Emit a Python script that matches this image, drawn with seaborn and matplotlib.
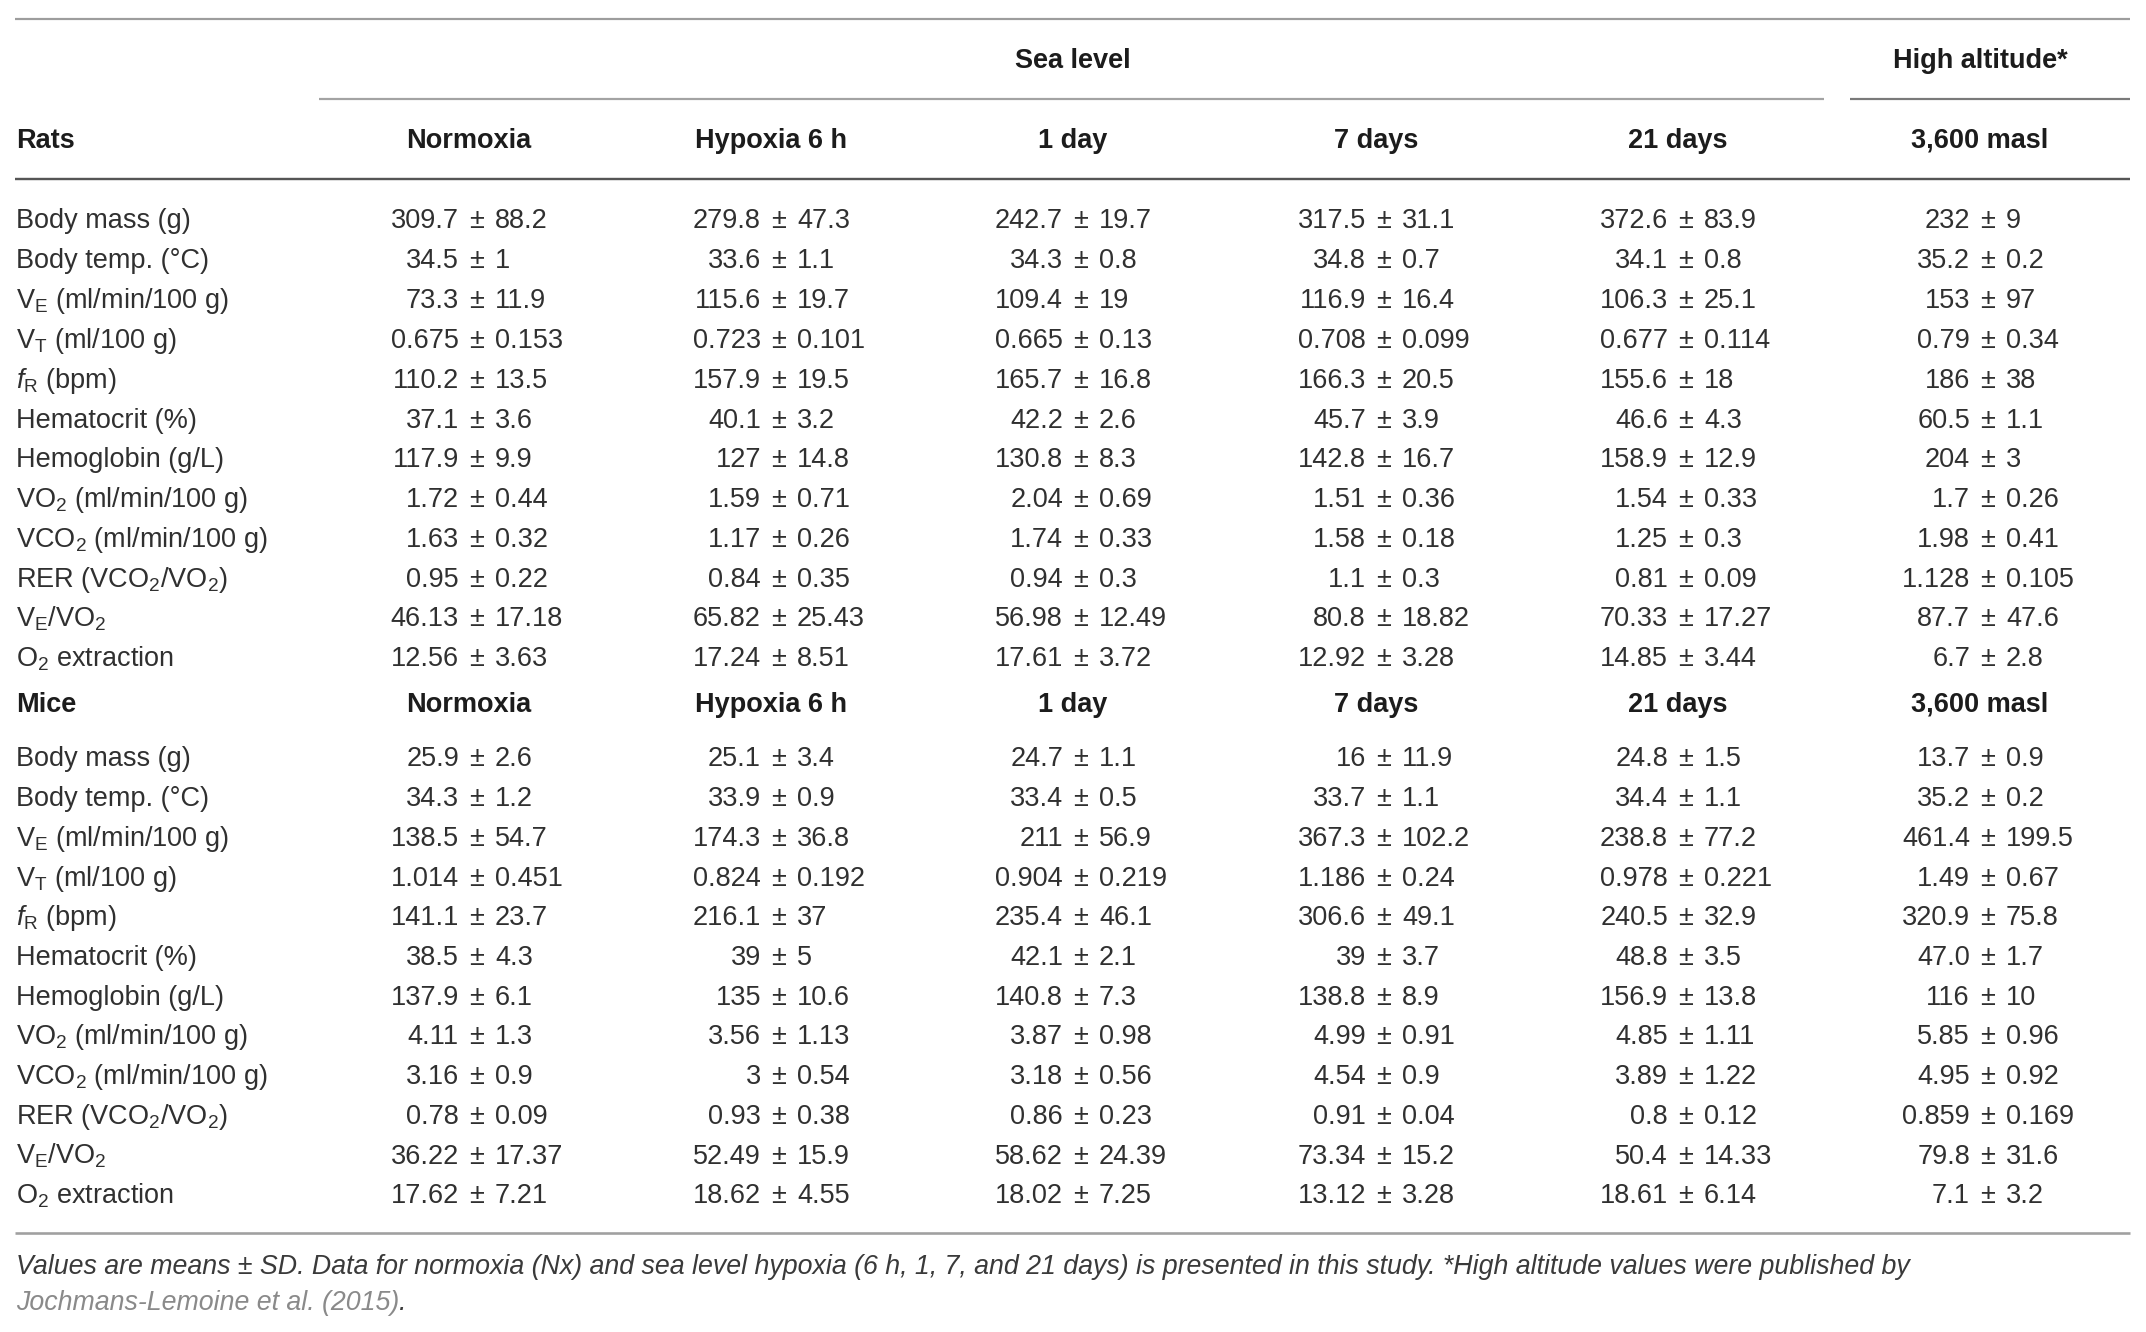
import matplotlib
matplotlib.use("Agg")
import matplotlib.pyplot as plt
import seaborn as sns

# ---------------- data ----------------
row_labels = [
    "Body mass (g)",
    "Body temp. (°C)",
    r"$\mathrm{V}_\mathrm{E}$ (ml/min/100 g)",
    r"$\mathrm{V}_\mathrm{T}$ (ml/100 g)",
    r"$\mathit{f}_\mathrm{R}$ (bpm)",
    "Hematocrit (%)",
    "Hemoglobin (g/L)",
    r"$\mathrm{VO}_\mathrm{2}$ (ml/min/100 g)",
    r"$\mathrm{VCO}_\mathrm{2}$ (ml/min/100 g)",
    r"RER ($\mathrm{VCO}_\mathrm{2}$/$\mathrm{VO}_\mathrm{2}$)",
    r"$\mathrm{V}_\mathrm{E}$/$\mathrm{VO}_\mathrm{2}$",
    r"$\mathrm{O}_\mathrm{2}$ extraction",
]
columns = ["Normoxia", "Hypoxia 6 h", "1 day", "7 days", "21 days", "3,600 masl"]
group_titles = ["Sea level", "High altitude*"]
species = ["Rats", "Mice"]

rats_normoxia = ["309.7 ± 88.2", "34.5 ± 1", "73.3 ± 11.9", "0.675 ± 0.153", "110.2 ± 13.5", "37.1 ± 3.6",
                 "117.9 ± 9.9", "1.72 ± 0.44", "1.63 ± 0.32", "0.95 ± 0.22", "46.13 ± 17.18", "12.56 ± 3.63"]
rats_hypoxia6h = ["279.8 ± 47.3", "33.6 ± 1.1", "115.6 ± 19.7", "0.723 ± 0.101", "157.9 ± 19.5", "40.1 ± 3.2",
                  "127 ± 14.8", "1.59 ± 0.71", "1.17 ± 0.26", "0.84 ± 0.35", "65.82 ± 25.43", "17.24 ± 8.51"]
rats_1day = ["242.7 ± 19.7", "34.3 ± 0.8", "109.4 ± 19", "0.665 ± 0.13", "165.7 ± 16.8", "42.2 ± 2.6",
             "130.8 ± 8.3", "2.04 ± 0.69", "1.74 ± 0.33", "0.94 ± 0.3", "56.98 ± 12.49", "17.61 ± 3.72"]
rats_7days = ["317.5 ± 31.1", "34.8 ± 0.7", "116.9 ± 16.4", "0.708 ± 0.099", "166.3 ± 20.5", "45.7 ± 3.9",
              "142.8 ± 16.7", "1.51 ± 0.36", "1.58 ± 0.18", "1.1 ± 0.3", "80.8 ± 18.82", "12.92 ± 3.28"]
rats_21days = ["372.6 ± 83.9", "34.1 ± 0.8", "106.3 ± 25.1", "0.677 ± 0.114", "155.6 ± 18", "46.6 ± 4.3",
               "158.9 ± 12.9", "1.54 ± 0.33", "1.25 ± 0.3", "0.81 ± 0.09", "70.33 ± 17.27", "14.85 ± 3.44"]
rats_high = ["232 ± 9", "35.2 ± 0.2", "153 ± 97", "0.79 ± 0.34", "186 ± 38", "60.5 ± 1.1",
             "204 ± 3", "1.7 ± 0.26", "1.98 ± 0.41", "1.128 ± 0.105", "87.7 ± 47.6", "6.7 ± 2.8"]

mice_normoxia = ["25.9 ± 2.6", "34.3 ± 1.2", "138.5 ± 54.7", "1.014 ± 0.451", "141.1 ± 23.7", "38.5 ± 4.3",
                 "137.9 ± 6.1", "4.11 ± 1.3", "3.16 ± 0.9", "0.78 ± 0.09", "36.22 ± 17.37", "17.62 ± 7.21"]
mice_hypoxia6h = ["25.1 ± 3.4", "33.9 ± 0.9", "174.3 ± 36.8", "0.824 ± 0.192", "216.1 ± 37", "39 ± 5",
                  "135 ± 10.6", "3.56 ± 1.13", "3 ± 0.54", "0.93 ± 0.38", "52.49 ± 15.9", "18.62 ± 4.55"]
mice_1day = ["24.7 ± 1.1", "33.4 ± 0.5", "211 ± 56.9", "0.904 ± 0.219", "235.4 ± 46.1", "42.1 ± 2.1",
             "140.8 ± 7.3", "3.87 ± 0.98", "3.18 ± 0.56", "0.86 ± 0.23", "58.62 ± 24.39", "18.02 ± 7.25"]
mice_7days = ["16 ± 11.9", "33.7 ± 1.1", "367.3 ± 102.2", "1.186 ± 0.24", "306.6 ± 49.1", "39 ± 3.7",
              "138.8 ± 8.9", "4.99 ± 0.91", "4.54 ± 0.9", "0.91 ± 0.04", "73.34 ± 15.2", "13.12 ± 3.28"]
mice_21days = ["24.8 ± 1.5", "34.4 ± 1.1", "238.8 ± 77.2", "0.978 ± 0.221", "240.5 ± 32.9", "48.8 ± 3.5",
               "156.9 ± 13.8", "4.85 ± 1.11", "3.89 ± 1.22", "0.8 ± 0.12", "50.4 ± 14.33", "18.61 ± 6.14"]
mice_high = ["13.7 ± 0.9", "35.2 ± 0.2", "461.4 ± 199.5", "1.49 ± 0.67", "320.9 ± 75.8", "47.0 ± 1.7",
             "116 ± 10", "5.85 ± 0.96", "4.95 ± 0.92", "0.859 ± 0.169", "79.8 ± 31.6", "7.1 ± 3.2"]

footnote_line1 = ("Values are means ± SD. Data for normoxia (Nx) and sea level hypoxia (6 h, 1, 7, and 21 days) "
                  "is presented in this study. *High altitude values were published by")
footnote_ref = "Jochmans-Lemoine et al. (2015)"

rats_table = [rats_normoxia, rats_hypoxia6h, rats_1day, rats_7days, rats_21days, rats_high]
mice_table = [mice_normoxia, mice_hypoxia6h, mice_1day, mice_7days, mice_21days, mice_high]

# ---------------- style ----------------
sns.set_theme(style="white")
plt.rcParams["font.family"] = ["Liberation Sans", "DejaVu Sans"]
plt.rcParams["mathtext.fontset"] = "custom"
plt.rcParams["mathtext.rm"] = "Liberation Sans"
plt.rcParams["mathtext.it"] = "Liberation Sans:italic"
plt.rcParams["mathtext.bf"] = "Liberation Sans:bold"

W, H = 2146, 1332
fig = plt.figure(figsize=(W / 100, H / 100), dpi=100)
ax = fig.add_axes([0, 0, 1, 1])
ax.set_xlim(0, W)
ax.set_ylim(H, 0)
ax.axis("off")

FS = 19.5
BODY = "#303030"
BOLD = "#1c1c1c"
BASE = 8.5           # baseline offset below visual centre (px)
PM_OFF = 8           # centre of "±" relative to column centre (px)
GAP = 18             # distance from centre of "±" to the numbers (px)

label_x = 16
col_x = [469, 771, 1073, 1376, 1678, 1980]   # header centres
line_x0, line_x1 = 15, 2130

def px2pt(p):
    return p * 72 / 100

# rules
ax.hlines(19, line_x0, line_x1, color="#9d9d9d", lw=px2pt(2.2))
ax.hlines(99, 319, 1824, color="#a3a3a3", lw=px2pt(2.2))
ax.hlines(99, 1850, line_x1, color="#7a7a7a", lw=px2pt(2.2))
ax.hlines(179, line_x0, line_x1, color="#555555", lw=px2pt(2.4))
ax.hlines(1233, line_x0, line_x1, color="#a0a0a0", lw=px2pt(2.6))

# group titles
ax.text(col_x[2], 59 + BASE, group_titles[0], ha="center", va="baseline",
        fontsize=FS, fontweight="bold", color=BOLD)
ax.text(col_x[5], 59 + BASE, group_titles[1], ha="center", va="baseline",
        fontsize=FS, fontweight="bold", color=BOLD)

def header_row(y, name):
    ax.text(label_x, y + BASE, name, ha="left", va="baseline", fontsize=FS,
            fontweight="bold", color=BOLD)
    for cx, c in zip(col_x, columns):
        ax.text(cx, y + BASE, c, ha="center", va="baseline", fontsize=FS,
                fontweight="bold", color=BOLD)

def body_rows(y0, step, table):
    for i, lab in enumerate(row_labels):
        y = y0 + i * step + BASE
        ax.text(label_x, y, lab, ha="left", va="baseline", fontsize=FS, color=BODY)
        for cx, col in zip(col_x, table):
            mean, sd = col[i].split(" ± ")
            pm = cx + PM_OFF
            ax.text(pm - GAP, y, mean, ha="right", va="baseline", fontsize=FS, color=BODY)
            ax.text(pm, y, "±", ha="center", va="baseline", fontsize=FS, color=BODY)
            ax.text(pm + GAP, y, sd, ha="left", va="baseline", fontsize=FS, color=BODY)

header_row(139, species[0])
body_rows(220, 39.8, rats_table)
header_row(703, species[1])
body_rows(758, 39.7, mice_table)

# footnote
FN = 19.3
ax.text(label_x, 1266 + BASE, footnote_line1, ha="left", va="baseline", fontsize=FN,
        style="italic", color="#3a3a3a")
t2 = ax.text(label_x, 1302 + BASE, footnote_ref, ha="left", va="baseline", fontsize=FN,
             style="italic", color="#8a8a8a")
ax.annotate(".", xy=(1, 0), xycoords=t2, ha="left", va="bottom", fontsize=FN,
            style="italic", color="#3a3a3a")

fig.savefig("out.png", dpi=100)
